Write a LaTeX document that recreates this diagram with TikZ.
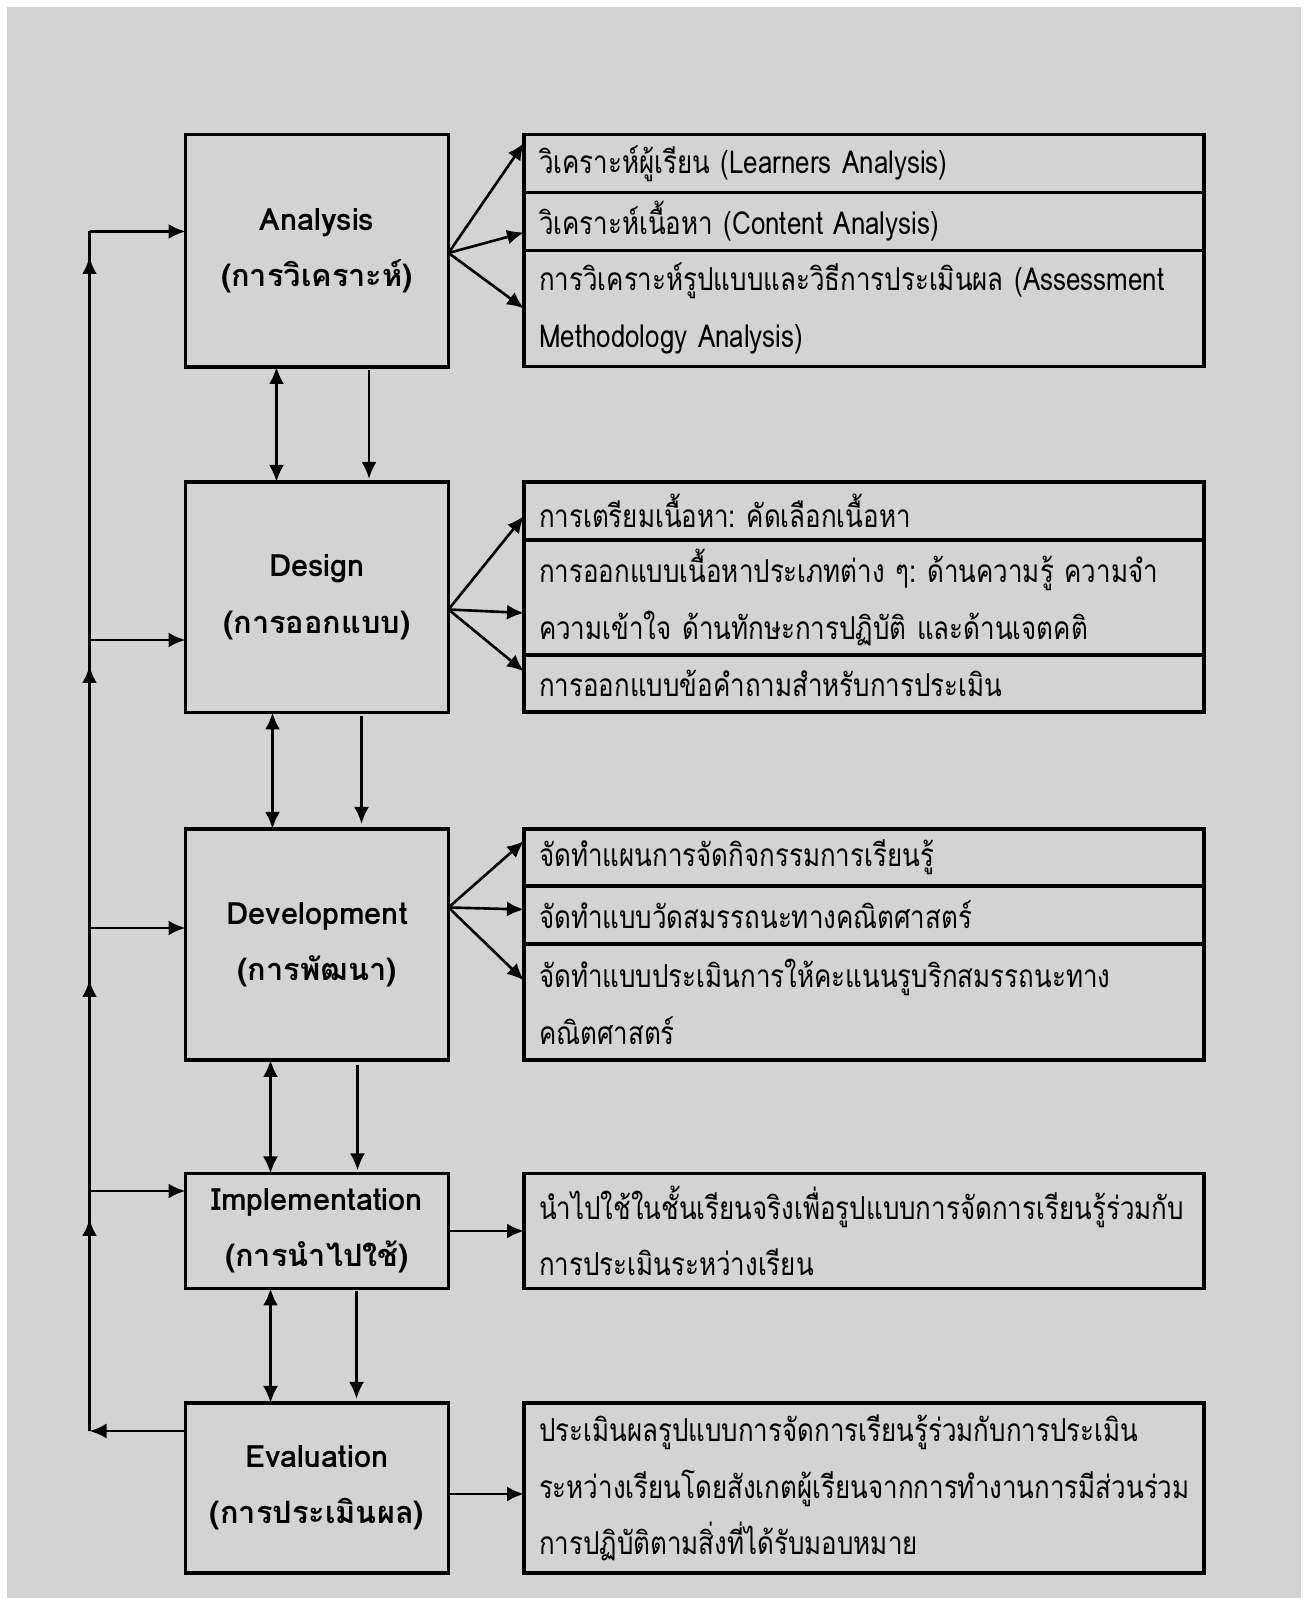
\documentclass[tikz,border=0pt]{standalone}
\usepackage{fontspec}
\setmainfont[Script=Thai]{Loma}
\newfontfamily\taskfont[Script=Thai, FakeStretch=0.82]{Loma}
\usetikzlibrary{arrows.meta,positioning}
\definecolor{bggray}{RGB}{211,211,211}
\frenchspacing

\begin{document}
\begin{tikzpicture}[
  phase/.style={draw=black, line width=2pt, minimum width=5.26cm, inner sep=0pt, outer sep=0pt,
    align=center, font=\bfseries\fontsize{17.5}{32}\selectfont},
  task/.style={draw=black, line width=2pt, text width=13cm, inner xsep=0.3cm, inner ysep=0pt, outer sep=0pt,
    align=left, font=\taskfont\fontsize{18}{32}\selectfont},
  link/.style={black, line width=1.5pt, -{Latex[length=0.34cm,width=0.3cm]}},
  twoway/.style={black, line width=1.5pt, {Latex[length=0.34cm,width=0.3cm]}-{Latex[length=0.34cm,width=0.3cm]}}
]
\useasboundingbox (0,0) rectangle (26.16,31.96);
\fill[bggray] (0.14,0) rectangle (26.02,31.82);

% phases
\node[phase, anchor=north west, minimum height=4.65cm] (ana) at (3.71,29.27) {Analysis\\(การวิเคราะห์)};
\node[phase, anchor=north west, minimum height=4.61cm] (des) at (3.71,22.32) {Design\\(การออกแบบ)};
\node[phase, anchor=north west, minimum height=4.62cm] (dev) at (3.71,15.38) {Development\\(การพัฒนา)};
\node[phase, anchor=north west, minimum height=2.30cm] (imp) at (3.71,8.49) {Implementation\\(การนำไปใช้)};
\node[phase, anchor=north west, minimum height=3.40cm] (eva) at (3.71,3.90) {Evaluation\\(การประเมินผล)};

% tasks
\node[task, anchor=north west, minimum height=1.16cm] (a1) at (10.48,29.27) {วิเคราะห์ผู้เรียน (Learners Analysis)};
\node[task, below=0pt of a1, minimum height=1.16cm] (a2) {วิเคราะห์เนื้อหา (Content Analysis)};
\node[task, below=0pt of a2, minimum height=2.32cm] (a3) {การวิเคราะห์รูปแบบและวิธีการประเมินผล (Assessment\\Methodology Analysis)};

\node[task, anchor=north west, minimum height=1.16cm] (d1) at (10.48,22.32) {การเตรียมเนื้อหา: คัดเลือกเนื้อหา};
\node[task, below=0pt of d1, minimum height=2.30cm] (d2) {การออกแบบเนื้อหาประเภทต่าง ๆ: ด้านความรู้ ความจำ\\ความเข้าใจ ด้านทักษะการปฏิบัติ และด้านเจตคติ};
\node[task, below=0pt of d2, minimum height=1.14cm] (d3) {การออกแบบข้อคำถามสำหรับการประเมิน};

\node[task, anchor=north west, minimum height=1.14cm] (v1) at (10.48,15.38) {จัดทำแผนการจัดกิจกรรมการเรียนรู้};
\node[task, below=0pt of v1, minimum height=1.16cm] (v2) {จัดทำแบบวัดสมรรถนะทางคณิตศาสตร์};
\node[task, below=0pt of v2, minimum height=2.32cm] (v3) {จัดทำแบบประเมินการให้คะแนนรูบริกสมรรถนะทาง\\คณิตศาสตร์};

\node[task, anchor=north west, minimum height=2.30cm] (i1) at (10.48,8.49) {นำไปใช้ในชั้นเรียนจริงเพื่อรูปแบบการจัดการเรียนรู้ร่วมกับ\\การประเมินระหว่างเรียน};
\node[task, anchor=north west, minimum height=3.40cm] (e1) at (10.48,3.90) {ประเมินผลรูปแบบการจัดการเรียนรู้ร่วมกับการประเมิน\\ระหว่างเรียนโดยสังเกตผู้เรียนจากการทำงานการมีส่วนร่วม\\การปฏิบัติตามสิ่งที่ได้รับมอบหมาย};

% feedback line on the left
\coordinate (bA) at (1.79,27.33);
\coordinate (bD) at (1.79,19.16);
\coordinate (bV) at (1.79,13.40);
\coordinate (bI) at (1.79,8.14);
\coordinate (bE) at (1.79,3.34);
\coordinate (tA) at (1.79,26.82);
\coordinate (tD) at (1.79,18.64);
\coordinate (tV) at (1.79,12.36);
\coordinate (tI) at (1.79,7.58);

\draw[black, line width=1.5pt] (bE) -- (bA);
\draw[link] (eva.west |- bE) -- (bE);
\draw[link] (bE) -- (tI);
\draw[link] (bI) -- (tV);
\draw[link] (bV) -- (tD);
\draw[link] (bD) -- (tA);
\draw[link] (bA) -- (ana.west |- bA);
\draw[link] (bD) -- (des.west |- bD);
\draw[link] (bV) -- (dev.west |- bV);
\draw[link] (bI) -- (imp.west |- bI);

% between phases
\draw[twoway] ([xshift=1.82cm]ana.south west) -- ([xshift=1.82cm]des.north west);
\draw[link] ([xshift=3.67cm,yshift=-0.07cm]ana.south west) -- ([xshift=3.67cm,yshift=0.06cm]des.north west);
\draw[twoway] ([xshift=1.74cm]des.south west) -- ([xshift=1.74cm]dev.north west);
\draw[link] ([xshift=3.52cm,yshift=-0.08cm]des.south west) -- ([xshift=3.52cm,yshift=0.1cm]dev.north west);
\draw[twoway] ([xshift=1.70cm]dev.south west) -- ([xshift=1.70cm]imp.north west);
\draw[link] ([xshift=3.44cm,yshift=-0.1cm]dev.south west) -- ([xshift=3.44cm,yshift=0.06cm]imp.north west);
\draw[twoway] ([xshift=1.70cm]imp.south west) -- ([xshift=1.70cm]eva.north west);
\draw[link] ([xshift=3.42cm,yshift=-0.06cm]imp.south west) -- ([xshift=3.42cm,yshift=0.08cm]eva.north west);

% to the tasks
\coordinate (fA) at (8.97,26.90);
\coordinate (fD) at (8.97,19.77);
\coordinate (fV) at (8.97,13.81);
\draw[link] (fA) -- ([yshift=0.41cm]a1.west);
\draw[link] (fA) -- ([yshift=-0.22cm]a2.west);
\draw[link] (fA) -- (a3.west);
\draw[link] (fD) -- ([yshift=-0.1cm]d1.west);
\draw[link] (fD) -- ([yshift=-0.31cm]d2.west);
\draw[link] (fD) -- ([yshift=0.24cm]d3.west);
\draw[link] (fV) -- ([yshift=0.33cm]v1.west);
\draw[link] (fV) -- ([yshift=0.11cm]v2.west);
\draw[link] (fV) -- ([yshift=0.43cm]v3.west);
\draw[link] (imp.east) -- (imp.east -| i1.west);
\draw[link] ([yshift=-0.12cm]eva.east) -- ([yshift=-0.12cm]eva.east -| e1.west);
\end{tikzpicture}
\end{document}
